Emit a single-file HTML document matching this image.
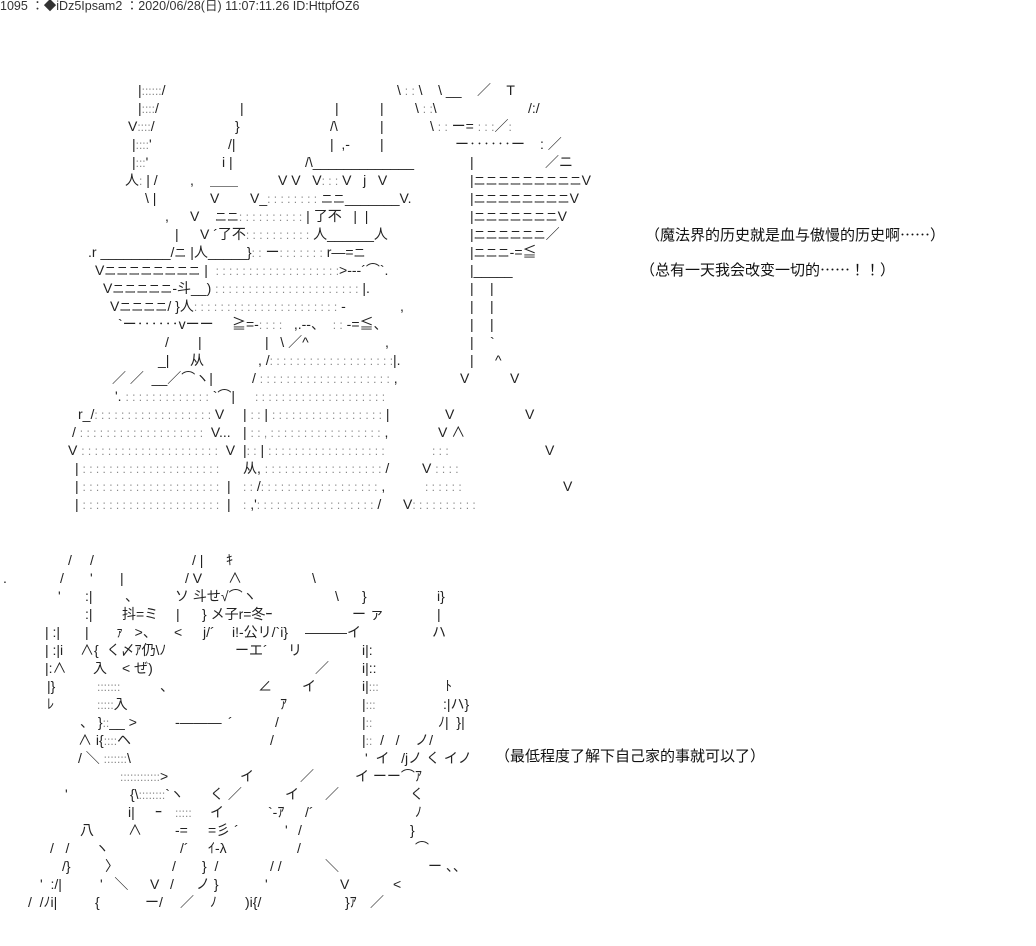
<!DOCTYPE html>
<html><head><meta charset="utf-8">
<style>
html,body{margin:0;padding:0;background:#fff;}
body{width:1036px;height:946px;position:relative;overflow:hidden;font-family:"Liberation Sans","Noto Sans CJK JP",sans-serif;color:#222;}
b{position:absolute;font-weight:normal;white-space:pre;font-size:14px;line-height:18px;}
.d{color:#888;font-size:12px;letter-spacing:0;}
.n{font-size:12px;}
.t{position:absolute;white-space:pre;font-size:15px;line-height:18px;color:#111;}
.e{font-family:"Noto Sans CJK SC",sans-serif;}
</style></head><body>
<div class="t" style="left:0;top:-3px;font-size:12.5px;color:#333">1095 ：◆iDz5Ipsam2 ：2020/06/28(日) 11:07:11.26 ID:HttpfOZ6</div>

<!-- top art -->
<b style="left:138px;top:81px">|<span class="d">::::::</span>/</b><b style="left:397px;top:81px">\ <span class="d">: :</span> \    \ __    ／    T</b>
<b style="left:138px;top:99px">|<span class="d">::::</span>/</b><b style="left:240px;top:99px">|</b><b style="left:335px;top:99px">|</b><b style="left:380px;top:99px">|</b><b style="left:415px;top:99px">\ <span class="d">: :</span>\</b><b style="left:528px;top:99px">/:/</b>
<b style="left:128px;top:117px">V<span class="d">::::</span>/</b><b style="left:235px;top:117px">}</b><b style="left:330px;top:117px">/\</b><b style="left:380px;top:117px">|</b><b style="left:430px;top:117px">\ <span class="d">: :</span> ー= <span class="d">: : :</span>／<span class="d">:</span></b>
<b style="left:132px;top:135px">|<span class="d">::::</span>'</b><b style="left:228px;top:135px">/|</b><b style="left:330px;top:135px">|  ,-</b><b style="left:380px;top:135px">|</b><b style="left:455px;top:135px">ー‥‥‥ー</b><b style="left:540px;top:135px">: ／</b>
<b style="left:132px;top:153px">|<span class="d">:::</span>'</b><b style="left:222px;top:153px">i |</b><b style="left:305px;top:153px">/\_____________</b><b style="left:470px;top:153px">|</b><b style="left:545px;top:153px">／ニ</b>
<b style="left:125px;top:171px">人<span class="d">:</span> | /</b><b style="left:190px;top:171px">,</b><b style="left:210px;top:171px">＿＿</b><b style="left:278px;top:171px">V V   V<span class="d">: : :</span> V   j   V</b><b style="left:470px;top:171px">|<span class="n">ニニニニニニニニニ</span>V</b>
<b style="left:145px;top:189px">\ |</b><b style="left:210px;top:189px">V</b><b style="left:250px;top:189px">V_<span class="d">: : : : : : : :</span> <span class="n">ニニ</span>_______V.</b><b style="left:470px;top:189px">|<span class="n">ニニニニニニニニ</span>V</b>
<b style="left:165px;top:207px">,</b><b style="left:190px;top:207px">V    <span class="n">ニニ</span><span class="d">: : : : : : : : : :</span> | 了不   |  |</b><b style="left:470px;top:207px">|<span class="n">ニニニニニニニ</span>V</b>
<b style="left:175px;top:225px">|</b><b style="left:200px;top:225px">V ´了不<span class="d">: : : : : : : : : :</span> 人______人</b><b style="left:470px;top:225px">|<span class="n">ニニニニニニ</span>／</b>
<b style="left:88px;top:243px">.r _________/<span class="n">ニ</span> |人_____}<span class="d">: :</span> ー<span class="d">: : : : : : :</span> r―=<span class="n">ニ</span></b><b style="left:470px;top:243px">|<span class="n">ニニニ</span>-=≦</b>
<b style="left:95px;top:261px">V<span class="n">ニニニニニニニニ</span> |  <span class="d">: : : : : : : : : : : : : : : : : : :</span>&gt;---´⌒`.</b><b style="left:470px;top:261px">|_____</b>
<b style="left:103px;top:279px">V<span class="n">ニニニニニ</span>-斗__) <span class="d">: : : : : : : : : : : : : : : : : : : : : :</span> |.</b><b style="left:470px;top:279px">|</b><b style="left:490px;top:279px">|</b>
<b style="left:110px;top:297px">V<span class="n">ニニニニ</span>/ }人<span class="d">: : : : : : : : : : : : : : : : : : : : : :</span> ‐</b><b style="left:400px;top:297px">,</b><b style="left:470px;top:297px">|</b><b style="left:490px;top:297px">|</b>
<b style="left:118px;top:315px">`ー‥‥‥vーー</b><b style="left:232px;top:315px">≧=-<span class="d">: : : :</span>   ,.-‐、  <span class="d">: :</span> -=≦、</b><b style="left:470px;top:315px">|</b><b style="left:490px;top:315px">|</b>
<b style="left:165px;top:333px">/</b><b style="left:198px;top:333px">|</b><b style="left:265px;top:333px">|   \ ／^</b><b style="left:385px;top:333px">,</b><b style="left:470px;top:333px">|</b><b style="left:490px;top:333px">`</b>
<b style="left:158px;top:351px">_|</b><b style="left:190px;top:351px">从</b><b style="left:258px;top:351px">, /<span class="d">: : : : : : : : : : : : : : : : : : :</span>|.</b><b style="left:470px;top:351px">|</b><b style="left:495px;top:351px">^</b>
<b style="left:112px;top:369px">／ ／  __／⌒ヽ|</b><b style="left:252px;top:369px">/ <span class="d">: : : : : : : : : : : : : : : : : : : :</span> ,</b><b style="left:460px;top:369px">V</b><b style="left:510px;top:369px">V</b>
<b style="left:115px;top:387px">'. <span class="d">: : : : : : : : : : : : :</span> `⌒|</b><b style="left:255px;top:387px"><span class="d">: : : : : : : : : : : : : : : : : : : :</span></b>
<b style="left:78px;top:405px">r_/<span class="d">: : : : : : : : : : : : : : : : : :</span> V</b><b style="left:243px;top:405px">| <span class="d">: :</span> | <span class="d">: : : : : : : : : : : : : : : : :</span> |</b><b style="left:445px;top:405px">V</b><b style="left:525px;top:405px">V</b>
<b style="left:72px;top:423px">/ <span class="d">: : : : : : : : : : : : : : : : : : :</span>  V...</b><b style="left:243px;top:423px">| <span class="d">: : , : : : : : : : : : : : : : : : : :</span> ,</b><b style="left:438px;top:423px">V ∧</b>
<b style="left:68px;top:441px">V <span class="d">: : : : : : : : : : : : : : : : : : : : :</span>  V</b><b style="left:243px;top:441px">|<span class="d">: :</span> | <span class="d">: : : : : : : : : : : : : : : : : :</span></b><b style="left:432px;top:441px"><span class="d">: : :</span></b><b style="left:545px;top:441px">V</b>
<b style="left:75px;top:459px">| <span class="d">: : : : : : : : : : : : : : : : : : : : :</span></b><b style="left:243px;top:459px">从, <span class="d">: : : : : : : : : : : : : : : : : :</span> /</b><b style="left:422px;top:459px">V <span class="d">: : : :</span></b>
<b style="left:75px;top:477px">| <span class="d">: : : : : : : : : : : : : : : : : : : : :</span>  |</b><b style="left:243px;top:477px"><span class="d">: :</span> /<span class="d">: : : : : : : : : : : : : : : : : :</span> ,</b><b style="left:425px;top:477px"><span class="d">: : : : : :</span></b><b style="left:563px;top:477px">V</b>
<b style="left:75px;top:495px">| <span class="d">: : : : : : : : : : : : : : : : : : : : :</span>  |</b><b style="left:243px;top:495px"><span class="d">:</span> ,'<span class="d">: : : : : : : : : : : : : : : : : :</span> /</b><b style="left:403px;top:495px">V<span class="d">: : : : : : : : : :</span></b>

<div class="t" style="left:645px;top:226px">（魔法界的历史就是血与傲慢的历史啊<span class="e">……</span>）</div>
<div class="t" style="left:640px;top:261px">（总有一天我会改变一切的<span class="e">……</span>！！）</div>

<!-- bottom art -->
<b style="left:68px;top:551px">/</b><b style="left:90px;top:551px">/</b><b style="left:192px;top:551px">/ |</b><b style="left:226px;top:551px">ｷ</b>
<b style="left:3px;top:569px">.</b><b style="left:60px;top:569px">/</b><b style="left:90px;top:569px">'</b><b style="left:120px;top:569px">|</b><b style="left:185px;top:569px">/ V</b><b style="left:228px;top:569px">∧</b><b style="left:312px;top:569px">\</b>
<b style="left:58px;top:587px">'</b><b style="left:85px;top:587px">:|</b><b style="left:125px;top:587px">、</b><b style="left:175px;top:587px">ソ 斗せ√⌒ヽ</b><b style="left:335px;top:587px">\</b><b style="left:362px;top:587px">}</b><b style="left:437px;top:587px">i}</b>
<b style="left:85px;top:605px">:|</b><b style="left:122px;top:605px">抖=ミ</b><b style="left:176px;top:605px">|</b><b style="left:202px;top:605px">} メ子r=冬ｰ</b><b style="left:352px;top:605px">ー ァ</b><b style="left:437px;top:605px">|</b>
<b style="left:45px;top:623px">| :|</b><b style="left:85px;top:623px">|</b><b style="left:116px;top:623px">ｧ   &gt;、</b><b style="left:174px;top:623px">&lt;</b><b style="left:203px;top:623px">j/´</b><b style="left:232px;top:623px">i!-公リ/`i}</b><b style="left:305px;top:623px">―――イ</b><b style="left:432px;top:623px">ハ</b>
<b style="left:45px;top:641px">| :|i</b><b style="left:80px;top:641px">∧{  く〆ｱ仍\ﾉ</b><b style="left:235px;top:641px">ーエ´</b><b style="left:288px;top:641px">リ</b><b style="left:362px;top:641px">i|:</b>
<b style="left:45px;top:659px">|:∧</b><b style="left:93px;top:659px">入</b><b style="left:122px;top:659px">&lt; ぜ)</b><b style="left:315px;top:659px">／</b><b style="left:362px;top:659px">i|::</b>
<b style="left:47px;top:677px">|}</b><b style="left:97px;top:677px"><span class="d">:::::::</span></b><b style="left:160px;top:677px">、</b><b style="left:258px;top:677px">∠</b><b style="left:302px;top:677px">イ</b><b style="left:362px;top:677px">i|<span class="d">:::</span></b><b style="left:445px;top:677px">ﾄ</b>
<b style="left:47px;top:695px">ﾚ</b><b style="left:97px;top:695px"><span class="d">:::::</span>入</b><b style="left:280px;top:695px">ｱ</b><b style="left:362px;top:695px">|<span class="d">:::</span></b><b style="left:443px;top:695px">:|ハ}</b>
<b style="left:80px;top:713px">、 }<span class="d">::</span>__ &gt;</b><b style="left:175px;top:713px">-―――</b><b style="left:228px;top:713px">´</b><b style="left:275px;top:713px">/</b><b style="left:362px;top:713px">|<span class="d">::</span></b><b style="left:438px;top:713px">ﾉ|  }|</b>
<b style="left:78px;top:731px">∧ i{<span class="d">::::</span>ヘ</b><b style="left:270px;top:731px">/</b><b style="left:362px;top:731px">|<span class="d">::</span>  /   /    ノ/</b>
<b style="left:78px;top:749px">/ ＼ <span class="d">:::::::</span>\</b><b style="left:365px;top:749px">'  イ   /jノ く イノ</b>
<b style="left:120px;top:767px"><span class="d">::::::::::::</span>&gt;</b><b style="left:240px;top:767px">イ</b><b style="left:300px;top:767px">／</b><b style="left:355px;top:767px">イ ーー⌒ｱ</b>
<b style="left:65px;top:785px">'</b><b style="left:130px;top:785px">{\<span class="d">::::::::</span>`ヽ</b><b style="left:210px;top:785px">く ／</b><b style="left:285px;top:785px">イ</b><b style="left:325px;top:785px">／</b><b style="left:410px;top:785px">く</b>
<b style="left:128px;top:803px">i|</b><b style="left:155px;top:803px">ｰ</b><b style="left:175px;top:803px"><span class="d">:::::</span></b><b style="left:210px;top:803px">イ</b><b style="left:268px;top:803px">`-ｱ</b><b style="left:305px;top:803px">/´</b><b style="left:415px;top:803px">ﾉ</b>
<b style="left:80px;top:821px">八</b><b style="left:128px;top:821px">∧</b><b style="left:175px;top:821px">-=</b><b style="left:208px;top:821px">=彡 ´</b><b style="left:285px;top:821px">'</b><b style="left:298px;top:821px">/</b><b style="left:410px;top:821px">}</b>
<b style="left:50px;top:839px">/   /</b><b style="left:95px;top:839px">ヽ</b><b style="left:180px;top:839px">/´</b><b style="left:208px;top:839px">ｲ-λ</b><b style="left:297px;top:839px">/</b><b style="left:415px;top:839px">⌒</b>
<b style="left:62px;top:857px">/}</b><b style="left:105px;top:857px">〉</b><b style="left:172px;top:857px">/</b><b style="left:202px;top:857px">}  /</b><b style="left:270px;top:857px">/ /</b><b style="left:325px;top:857px">＼</b><b style="left:428px;top:857px">ー 、、</b>
<b style="left:40px;top:875px">'  :/|</b><b style="left:100px;top:875px">'   ＼</b><b style="left:150px;top:875px">V</b><b style="left:170px;top:875px">/</b><b style="left:196px;top:875px">ノ }</b><b style="left:265px;top:875px">'</b><b style="left:340px;top:875px">V</b><b style="left:393px;top:875px">&lt;</b>
<b style="left:28px;top:893px">/  /ﾉi|</b><b style="left:95px;top:893px">{</b><b style="left:145px;top:893px">ー/</b><b style="left:180px;top:893px">／</b><b style="left:210px;top:893px">ﾉ</b><b style="left:245px;top:893px">)i{/</b><b style="left:345px;top:893px">}ｱ</b><b style="left:370px;top:893px">／</b>

<div class="t" style="left:495px;top:748px">（最低程度了解下自己家的事就可以了）</div>
</body></html>
